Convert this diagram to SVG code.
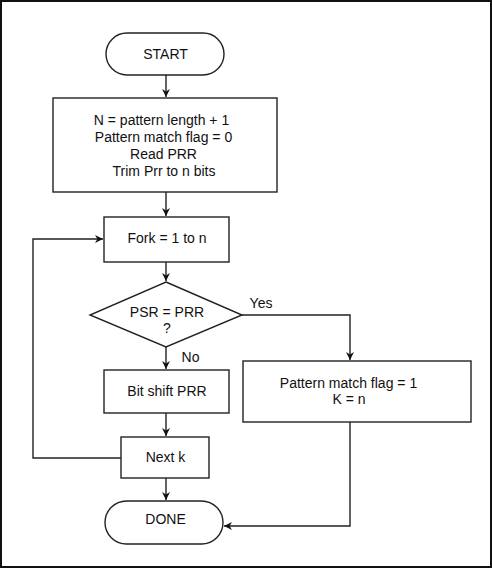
<svg xmlns="http://www.w3.org/2000/svg" width="492" height="568" viewBox="0 0 492 568">
<style>
.s{fill:#fff;stroke:#222;stroke-width:1.4}
.c{fill:none;stroke:#222;stroke-width:1.4}
text{font-family:"Liberation Sans",Arial,sans-serif;font-size:14px;fill:#111;text-anchor:middle}
</style>
<defs>
<marker id="a" viewBox="0 0 10 10" refX="10" refY="5" markerWidth="8" markerHeight="8" markerUnits="userSpaceOnUse" orient="auto">
<path d="M0,0 L10,5 L0,10 L3,5 Z" fill="#111"/>
</marker>
</defs>
<rect x="1" y="1" width="490" height="566" fill="#fff" stroke="#111" stroke-width="2"/>
<g id="start"><rect class="s" x="106" y="33" width="118" height="42" rx="21" ry="21"/><text x="165.5" y="58.5">START</text></g>
<g id="init"><rect class="s" x="53" y="98" width="224" height="94"/>
<text x="161.5" y="125">N = pattern length + 1</text>
<text x="163.5" y="142">Pattern match flag = 0</text>
<text x="163.5" y="159">Read PRR</text>
<text x="164" y="175.5">Trim Prr to n bits</text></g>
<g id="fork"><rect class="s" x="104" y="217" width="125" height="45"/><text x="167" y="243">Fork = 1 to n</text></g>
<g id="decision"><polygon class="s" points="166,282 242,315 166,347 90,315"/><text x="167" y="317">PSR = PRR</text><text x="167" y="333">?</text></g>
<g id="shift"><rect class="s" x="104" y="370" width="125" height="43"/><text x="167" y="396">Bit shift PRR</text></g>
<g id="match"><rect class="s" x="243" y="361" width="228" height="61"/><text x="348.5" y="388">Pattern match flag = 1</text><text x="349" y="403.5">K = n</text></g>
<g id="next"><rect class="s" x="121" y="437" width="88" height="41"/><text x="165.5" y="462">Next k</text></g>
<g id="done"><rect class="s" x="105" y="501" width="118" height="43" rx="21.5" ry="21.5"/><text x="165.5" y="524">DONE</text></g>
<g id="connectors">
<path class="c" d="M166,75 V97" marker-end="url(#a)"/>
<path class="c" d="M166,192 V216" marker-end="url(#a)"/>
<path class="c" d="M166,262 V281" marker-end="url(#a)"/>
<path class="c" d="M166,347 V369" marker-end="url(#a)"/>
<path class="c" d="M242,315 H350 V360" marker-end="url(#a)"/>
<path class="c" d="M166,413 V436" marker-end="url(#a)"/>
<path class="c" d="M121,458 H33 V239 H103" marker-end="url(#a)"/>
<path class="c" d="M166,478 V500" marker-end="url(#a)"/>
<path class="c" d="M350,422 V526 H224" marker-end="url(#a)"/>
<text x="261" y="308">Yes</text>
<text x="190.5" y="362">No</text>
</g>
</svg>
